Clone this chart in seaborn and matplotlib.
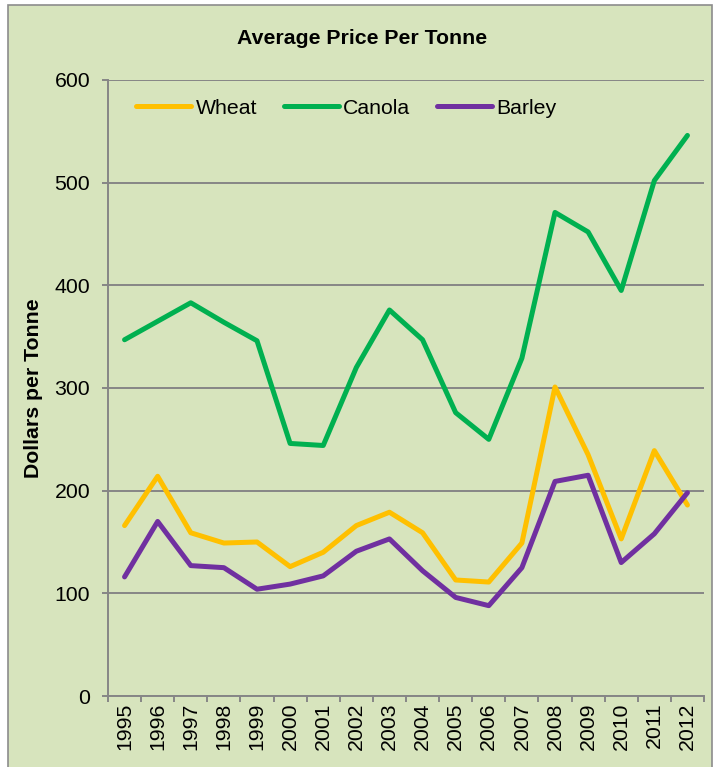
import matplotlib
matplotlib.use("Agg")
import matplotlib.pyplot as plt
from matplotlib.patches import Rectangle
import seaborn as sns
import pandas as pd

# Average price per tonne, 1995-2012
years = [1995, 1996, 1997, 1998, 1999, 2000, 2001, 2002, 2003,
         2004, 2005, 2006, 2007, 2008, 2009, 2010, 2011, 2012]
wheat = [166, 214, 159, 149, 150, 126, 140, 166, 179,
         159, 113, 111, 149, 301, 235, 153, 239, 186]
canola = [347, 365, 383, 364, 346, 246, 244, 320, 376,
          347, 276, 250, 329, 471, 452, 395, 502, 546]
barley = [116, 170, 127, 125, 104, 109, 117, 141, 153,
          122, 96, 88, 125, 209, 215, 130, 158, 198]
crops = ["Wheat", "Canola", "Barley"]
colors = ["#FFC000", "#00B050", "#7030A0"]
y_ticks = [0, 100, 200, 300, 400, 500, 600]

df = pd.concat([
    pd.DataFrame({"Year": years, "Price": vals, "Crop": name})
    for name, vals in zip(crops, [wheat, canola, barley])
], ignore_index=True)

sns.set_theme(style="white")
plt.rcParams["font.family"] = ["Liberation Sans", "DejaVu Sans"]
plt.rcParams["text.color"] = "black"

bg = "#D7E4BD"
grey = "#868686"
fs = 15.3

fig = plt.figure(figsize=(7.18, 7.67), dpi=100, facecolor="white")

# chart area panel with a thin grey border, kept behind the axes
panel = Rectangle((8 / 718, -0.02), 704 / 718, 1.0135,
                  transform=fig.transFigure, facecolor=bg,
                  edgecolor="#8C8C8C", linewidth=1.2, zorder=-10)
fig.add_artist(panel)

ax = fig.add_axes([108 / 718, 1 - 696 / 767, 596 / 718, 616 / 767])
ax.set_facecolor("none")
ax.set_zorder(1)

sns.lineplot(data=df, x="Year", y="Price", hue="Crop", hue_order=crops,
             palette=colors, linewidth=3.6, legend=False, ax=ax,
             solid_capstyle="round", solid_joinstyle="round", zorder=3)

ax.set_xlim(years[0] - 0.5, years[-1] + 0.5)
ax.set_ylim(0, 600)
ax.set_yticks(y_ticks)
ax.set_yticklabels([str(v) for v in y_ticks])
ax.set_xticks(years)
ax.set_xticklabels([str(y) for y in years], rotation=90)
ax.set_xticks([y - 0.5 for y in years] + [years[-1] + 0.5], minor=True)

ax.yaxis.grid(True, color=grey, linewidth=1.4, zorder=1)
ax.xaxis.grid(False)
ax.set_axisbelow(True)

for side in ["top", "right"]:
    ax.spines[side].set_visible(False)
for side in ["left", "bottom"]:
    ax.spines[side].set_color(grey)
    ax.spines[side].set_linewidth(1.4)

ax.tick_params(axis="y", which="major", direction="out", length=4.3,
               width=1.4, color=grey, pad=8.5, labelsize=fs, labelcolor="black",
               left=True)
ax.tick_params(axis="x", which="major", length=0, pad=4.5, labelsize=fs,
               labelcolor="black", bottom=True)
ax.tick_params(axis="x", which="minor", direction="out", length=4,
               width=1.4, color=grey, bottom=True)

ax.set_xlabel("")
ax.set_ylabel("")

fig.text(362 / 718, 1 - 38 / 767, "Average Price Per Tonne", ha="center",
         va="center", fontsize=fs, fontweight="bold", color="black")
fig.text(34 / 718, 1 - 388 / 767, "Dollars per Tonne", ha="center",
         va="center", rotation=90, fontsize=fs, fontweight="bold",
         color="black")

handles = ax.get_lines()[:3]
leg = fig.legend(handles, crops, loc="center left",
                 bbox_to_anchor=(136 / 718, 1 - 108 / 767), ncol=3,
                 frameon=False, fontsize=fs, handlelength=2.6,
                 handletextpad=0.2, columnspacing=1.25, borderpad=0,
                 borderaxespad=0)
for t in leg.get_texts():
    t.set_color("black")

fig.savefig("out.png", dpi=100, facecolor="white")
